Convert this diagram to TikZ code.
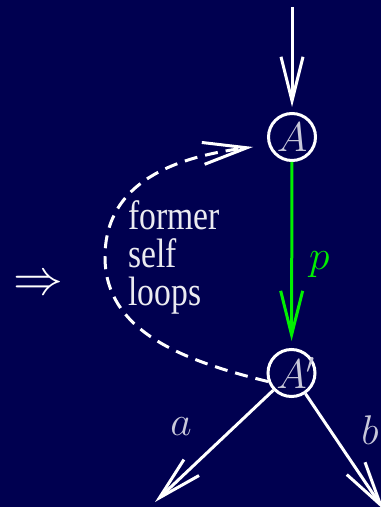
\documentclass[tikz,border=0pt]{standalone}
\usepackage{fontspec}
\setmainfont{Liberation Serif}
\newfontfamily\loopfont[FakeStretch=0.82]{Liberation Serif}
\usetikzlibrary{arrows.meta}
\definecolor{bg}{RGB}{0,0,80}
\definecolor{lbl}{RGB}{200,200,218}
\definecolor{pgreen}{RGB}{0,240,0}
\newcommand{\vlab}[1]{\makebox[0pt]{\raisebox{-1.3pt}{$#1$}}}

\begin{document}
\begin{tikzpicture}[x=.5pt, y=-.5pt, line width=1.5pt,
    tip/.style={-{Straight Barb[length=22pt,width=11pt]}},
    vert/.style={circle, draw=white, minimum size=23.5pt, inner sep=0pt, text=lbl, font=\fontsize{20}{24}\selectfont},
    lab/.style={inner sep=0pt, text=lbl, font=\fontsize{20}{24}\selectfont}]
      \fill[bg] (0,0) rectangle (381,507);
      \useasboundingbox (0,0) rectangle (381,507);
      \node[vert] (A) at (292,137) {\vlab{A}};
      \node[vert] (A2) at (291.5,373) {\vlab{A\rlap{$'$}}};
      \coordinate (in) at (292,7);
      \coordinate (aend) at (155,502);
      \coordinate (bend) at (384,510);
      \coordinate (loopend) at (253,147);
      \draw[white, tip, shorten >=2.5pt] (in) -- (A);
      \draw[pgreen, tip, shorten >=3.5pt] (A) -- (A2)
        node[lab, pos=.55, right=8pt, text=pgreen] (p) {$p$};
      \draw[white, tip] (A2) -- (aend);
      \draw[white, tip] (A2) -- (bend);
      \draw[white, tip, dash pattern=on 6.5pt off 4pt] (A2.200) .. controls (180,360) and (105,330) .. (105,257)
        .. controls (105,182) and (175,157) .. (loopend);
      \node[lab] (a) at (181,427) {$a$};
      \node[lab] (b) at (370,430) {$b$};
      \node[lab, text=white, font=\fontsize{24}{28}\selectfont] (imp) at (38.5,285.5) {$\Rightarrow$};
      \node[anchor=north west, inner sep=0pt, align=left, text=white!92!bg, font=\loopfont\fontsize{20.5}{19}\selectfont] (txt) at (127,199) {former\\self\\loops};
    \end{tikzpicture}
\end{document}
